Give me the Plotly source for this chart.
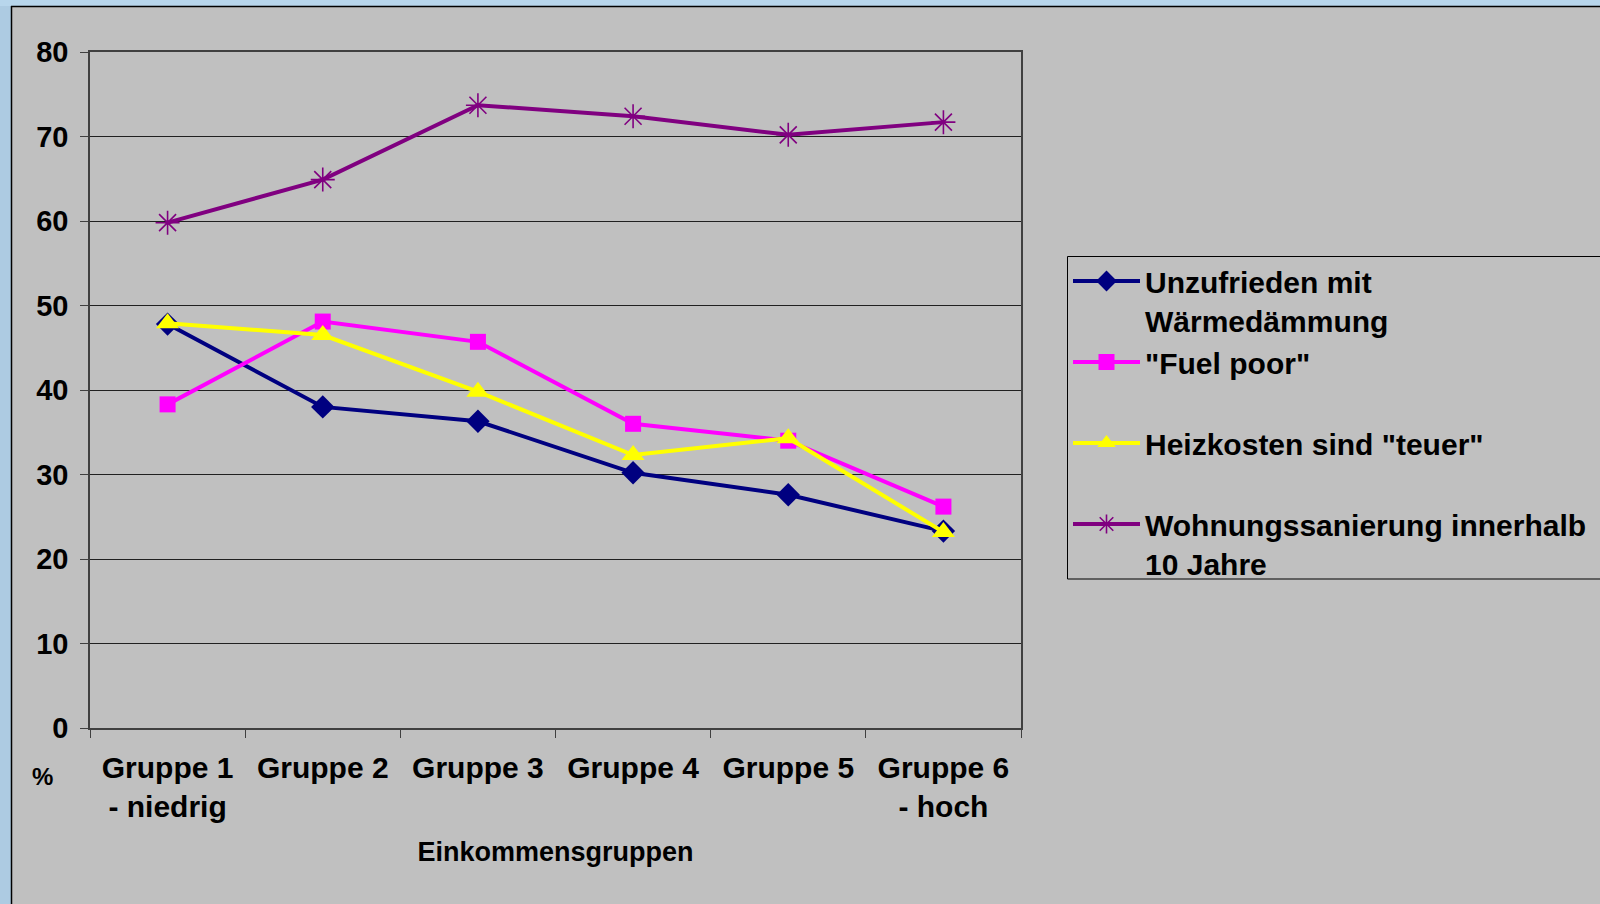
import plotly.graph_objects as go

categories = ["Gruppe 1<br>- niedrig", "Gruppe 2", "Gruppe 3", "Gruppe 4", "Gruppe 5", "Gruppe 6<br>- hoch"]
unzufrieden = [47.8, 38.0, 36.3, 30.2, 27.6, 23.3]
fuel_poor = [38.3, 48.1, 45.7, 36.0, 34.0, 26.2]
heizkosten = [47.9, 46.5, 39.8, 32.3, 34.3, 23.2]
sanierung = [59.8, 64.9, 73.7, 72.4, 70.2, 71.7]
y_ticks = [0, 10, 20, 30, 40, 50, 60, 70, 80]

W, H = 1600, 904
ML, MR, MT, MB = 90, 579, 52, 176
PW, PH = W - ML - MR, H - MT - MB

def px_x(p):
    return (p - ML) / PW

def px_y(p):
    return 1 - (p - MT) / PH

FONT = "Liberation Sans, Arial, sans-serif"

fig = go.Figure()
series = [
    ("Unzufrieden mit<br>Wärmedämmung", unzufrieden, "#000080", dict(symbol="diamond", size=18, color="#000080")),
    ("\"Fuel poor\"<br> ", fuel_poor, "#FF00FF", dict(symbol="square", size=16, color="#FF00FF")),
    ("Heizkosten sind \"teuer\"<br> ", heizkosten, "#FFFF00", dict(symbol="triangle-up", size=20, color="#FFFF00")),
    ("Wohnungssanierung innerhalb<br>10 Jahre", sanierung, "#800080",
     dict(symbol="asterisk-open", size=20, color="#800080", line=dict(color="#800080", width=1.6))),
]
for i, (name, vals, col, mk) in enumerate(series):
    fig.add_trace(go.Scatter(
        x=categories, y=vals, name=name, mode="lines+markers",
        line=dict(color=col, width=4), marker=mk, legendgroup=f"g{i}",
    ))

shapes = [
    dict(type="rect", xref="paper", yref="paper", x0=px_x(0), x1=px_x(11), y0=px_y(H), y1=px_y(0),
         fillcolor="#ADCBE2", line=dict(width=0), layer="below"),
    dict(type="rect", xref="paper", yref="paper", x0=px_x(0), x1=px_x(W), y0=px_y(6), y1=px_y(0),
         fillcolor="#B8D6EC", line=dict(width=0), layer="below"),
    dict(type="line", xref="paper", yref="paper", x0=px_x(11.5), x1=px_x(11.5), y0=px_y(H), y1=px_y(6),
         line=dict(color="black", width=1.5)),
    dict(type="line", xref="paper", yref="paper", x0=px_x(11), x1=px_x(W), y0=px_y(6.5), y1=px_y(6.5),
         line=dict(color="black", width=1.5)),
    # legend frame (extends past the right edge like the original)
    dict(type="rect", xref="paper", yref="paper", x0=px_x(1067.5), x1=px_x(1620), y0=px_y(579), y1=px_y(256.5),
         line=dict(color="black", width=1), fillcolor="rgba(0,0,0,0)"),
]

fig.update_layout(
    width=W, height=H,
    margin=dict(l=ML, r=MR, t=MT, b=MB, autoexpand=False),
    paper_bgcolor="#C0C0C0", plot_bgcolor="#C0C0C0",
    font=dict(family=FONT, size=26, color="black", weight="bold"),
    showlegend=True,
    legend=dict(
        x=px_x(1068), y=px_y(255), xanchor="left", yanchor="top",
        bgcolor="rgba(0,0,0,0)", borderwidth=0,
        font=dict(family=FONT, size=30, color="black", weight="bold"),
        valign="top", tracegroupgap=0, itemwidth=67,
    ),
    shapes=shapes,
    annotations=[
        dict(text="%", xref="paper", yref="paper", x=px_x(42), y=px_y(776), showarrow=False,
             xanchor="center", yanchor="middle",
             font=dict(family=FONT, size=24, color="black", weight="bold")),
    ],
)
fig.update_xaxes(
    type="category", range=[-0.5, 5.5], tickson="boundaries", ticks="outside", ticklen=8, tickcolor="#404040",
    showline=True, linecolor="#404040", linewidth=1.5, mirror=True, showgrid=False,
    tickfont=dict(family=FONT, size=30, color="black", weight="bold"),
    ticklabelstandoff=12,
    title=dict(text="Einkommensgruppen", font=dict(family=FONT, size=27, color="black", weight="bold"), standoff=20),
    automargin=False,
)
fig.update_yaxes(
    range=[0, 80], tickvals=y_ticks, ticks="outside", ticklen=8, tickcolor="#404040",
    showline=True, linecolor="#404040", linewidth=1.5, mirror=True,
    showgrid=True, gridcolor="#202020", gridwidth=1, zeroline=False,
    tickfont=dict(family=FONT, size=29, color="black", weight="bold"),
    ticklabelstandoff=6, automargin=False,
)

fig.write_html("out.html", config={"displayModeBar": False},
               post_script="document.body.style.margin='0';document.body.style.overflow='hidden';")
